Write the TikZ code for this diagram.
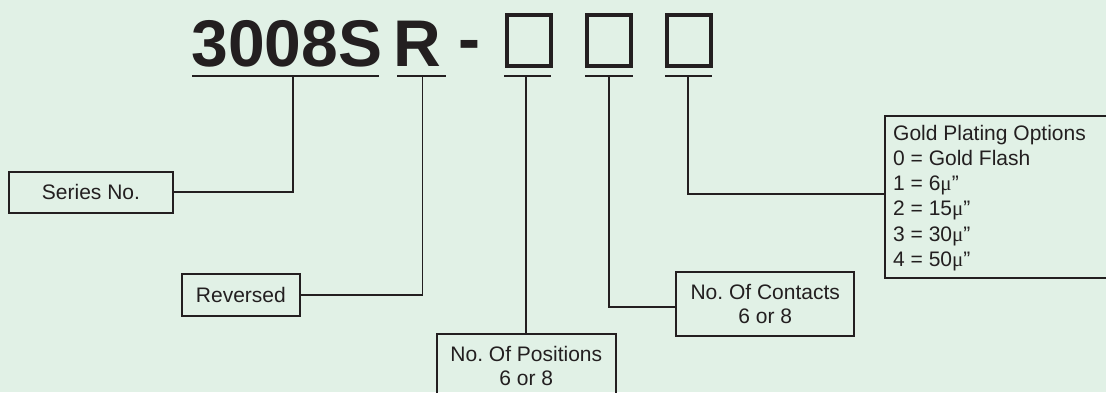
\documentclass[tikz,border=0pt]{standalone}
\usepackage{fontspec}
\setmainfont{Liberation Sans}
\newfontfamily\mufont{Liberation Serif}
\newcommand{\mumark}{{\mufont μ}”}
\definecolor{bg}{HTML}{E1F1E6}
\definecolor{ink}{HTML}{231F20}
\begin{document}
\frenchspacing
\begin{tikzpicture}[x=1pt,y=-1pt,
  lab/.style={draw=ink, line width=2pt, text=ink, font=\fontsize{21}{24.5}\selectfont, inner sep=0pt, align=center},
  conn/.style={draw=ink, line width=1.7pt},
  uline/.style={draw=ink, line width=2pt},
  sq/.style={draw=ink, line width=4pt, minimum width=44pt, minimum height=51pt, inner sep=0pt},
  big/.style={text=ink, font=\fontsize{66}{70}\selectfont\bfseries, inner sep=0pt, anchor=base west}]
\useasboundingbox (0,0) rectangle (1106,392);
\clip (0,0) rectangle (1106,392);
\fill[bg] (0,0) rectangle (1106,392);

% part number
\node[big] (series txt) at (191.3,66) {3008S};
\node[big] (rtxt) at (393,66) {R};
\node[big] (dash) at (457.8,61) {-};
\node[sq] (b1) at (529,40.5) {};
\node[sq] (b2) at (609,40.5) {};
\node[sq] (b3) at (688.5,40.5) {};

% underlines
\coordinate (u1l) at (192.3,75.5); \coordinate (u1r) at (379.3,75.5); \coordinate (u1) at (293,75.5);
\coordinate (u2l) at (397.3,75.5); \coordinate (u2r) at (445.7,75.5); \coordinate (u2) at (422.5,75.5);
\coordinate (u3l) at (504,75.5);   \coordinate (u3r) at (551,75.5);   \coordinate (u3) at (526.3,75.5);
\coordinate (u4l) at (585,75.5);   \coordinate (u4r) at (633,75.5);   \coordinate (u4) at (609.3,75.5);
\coordinate (u5l) at (665,75.5);   \coordinate (u5r) at (712,75.5);   \coordinate (u5) at (688,75.5);
\foreach \i in {1,...,5} {\draw[uline] (u\i l) -- (u\i r);}

% label boxes
\node[lab, minimum width=163.4pt, minimum height=41pt] (series) at (91,192.2) {Series No.};
\node[lab, minimum width=117.7pt, minimum height=42pt] (rev) at (240.9,295.3) {Reversed};
\node[lab, minimum width=178.6pt, minimum height=64.3pt] (pos) at (526.3,365.9) {No. Of Positions\\6 or 8};
\node[lab, minimum width=178.3pt, minimum height=64.3pt] (cont) at (765.2,304.2) {No. Of Contacts\\6 or 8};
\node[lab, anchor=north west, minimum width=300pt, minimum height=162.3pt] (gold) at (884.3,115) {};
\node[anchor=base west, inner sep=0pt, text=ink, font=\fontsize{21}{25.3}\selectfont] (goldtxt) at (893,140)
  {\begin{tabular}[t]{@{}l@{}}Gold Plating Options\\0 = Gold Flash\\1 = 6\mumark\\2 = 15\mumark\\3 = 30\mumark\\4 = 50\mumark\end{tabular}};

% connectors
\draw[conn] (series.east) -| (u1);
\draw[conn] (rev.east) -| (u2);
\draw[conn] (u3) -- (pos.north);
\draw[conn] (u4) |- ([yshift=-2.5pt]cont.west);
\draw[conn] (u5) |- ([yshift=3pt]gold.west);
\end{tikzpicture}
\end{document}
